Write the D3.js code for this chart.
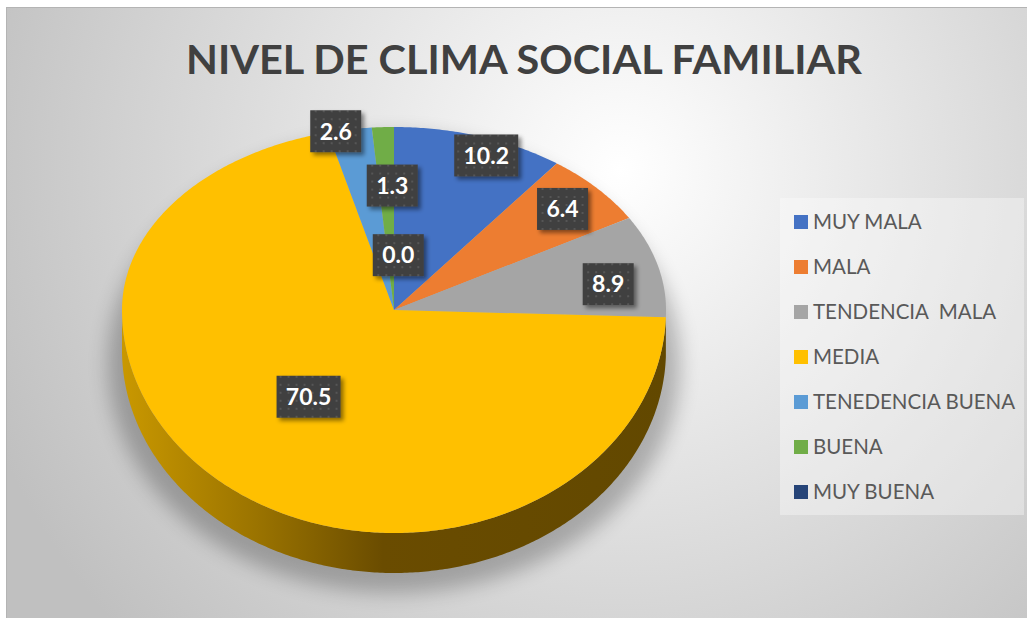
<!DOCTYPE html>
<html>
<head>
<meta charset="utf-8">
<script src="https://cdn.jsdelivr.net/npm/d3@7"></script>
<style>
  body { margin: 0; background: #fff; }
  svg { display: block; }
  text { font-family: Lato, "Open Sans", sans-serif; }
</style>
</head>
<body>
<div id="chart"></div>
<script>
// data
const categories = ["MUY MALA", "MALA", "TENDENCIA  MALA", "MEDIA", "TENEDENCIA BUENA", "BUENA", "MUY BUENA"];
const values = [10.2, 6.4, 8.9, 70.5, 2.6, 1.3, 0.0];
const colors = ["#4472c4", "#ed7d31", "#a5a5a5", "#ffc000", "#5b9bd5", "#70ad47", "#264478"];
// where each value box sits: fraction of radius, and a small angle nudge (deg)
const labelRadius = [0.91, 0.83, 0.8, 0.5, 1.0, 0.68, 0.3];
const labelNudge = [3.5, 0, 4, 0, -3, 1.8, 3];

const W = 1027, H = 618;

const svg = d3.select("#chart").append("svg")
    .attr("width", W)
    .attr("height", H);

const defs = svg.append("defs");

const bg = defs.append("radialGradient").attr("id", "bg")
    .attr("gradientUnits", "userSpaceOnUse")
    .attr("cx", 620).attr("cy", 170).attr("r", 680);
bg.append("stop").attr("offset", "0%").attr("stop-color", "#ffffff");
bg.append("stop").attr("offset", "100%").attr("stop-color", "#c0c0c0");

const side = defs.append("linearGradient").attr("id", "side")
    .attr("gradientUnits", "userSpaceOnUse")
    .attr("x1", 122).attr("x2", 666).attr("y1", 0).attr("y2", 0);
side.append("stop").attr("offset", "0%").attr("stop-color", "#c99800");
side.append("stop").attr("offset", "25%").attr("stop-color", "#9a7300");
side.append("stop").attr("offset", "48%").attr("stop-color", "#6a4c00");
side.append("stop").attr("offset", "100%").attr("stop-color", "#624800");

const blur = defs.append("filter").attr("id", "blur")
    .attr("x", "-20%").attr("y", "-20%").attr("width", "140%").attr("height", "140%");
blur.append("feGaussianBlur").attr("stdDeviation", 10);

const drop = defs.append("filter").attr("id", "drop")
    .attr("x", "-30%").attr("y", "-30%").attr("width", "160%").attr("height", "160%");
drop.append("feDropShadow").attr("dx", 3).attr("dy", 3).attr("stdDeviation", 2)
    .attr("flood-color", "#000").attr("flood-opacity", 0.45);

const dots = defs.append("pattern").attr("id", "dots")
    .attr("patternUnits", "userSpaceOnUse").attr("width", 8).attr("height", 8);
dots.append("rect").attr("width", 8).attr("height", 8).attr("fill", "#404040");
dots.append("rect").attr("x", 3).attr("y", 3).attr("width", 2).attr("height", 2).attr("fill", "#565656");

// chart area
svg.append("rect")
    .attr("x", 6.5).attr("y", 7.5)
    .attr("width", W).attr("height", H)
    .attr("fill", "url(#bg)")
    .attr("stroke", "#b4b4b4");

svg.append("text")
    .attr("x", 524).attr("y", 74)
    .attr("text-anchor", "middle")
    .attr("font-size", 41)
    .attr("font-weight", "bold")
    .attr("fill", "#404040")
    .attr("textLength", 676)
    .attr("lengthAdjust", "spacingAndGlyphs")
    .text("NIVEL DE CLIMA SOCIAL FAMILIAR");

// tilted pie geometry
const cx = 394, cy = 310, rx = 272, ryBack = 183, ryFront = 223, depth = 40;
const ry = a => Math.cos(a) > 0 ? ryBack : ryFront;
const px = (a, f = 1) => cx + rx * f * Math.sin(a);
const py = (a, f = 1) => cy - ry(a) * f * Math.cos(a);

const pie = d3.pie().sort(null).value(d => d.value);
const arcs = pie(categories.map((c, i) => ({
    name: c, value: values[i], color: colors[i], lr: labelRadius[i], nudge: labelNudge[i]
})));

const line = d3.line();
function rimPoints(a0, a1, dy) {
    const n = Math.max(2, Math.ceil((a1 - a0) / 0.01));
    return d3.range(n + 1).map(k => {
        const a = a0 + (a1 - a0) * k / n;
        return [px(a), py(a) + dy];
    });
}

// soft shadow under the pie
svg.append("ellipse")
    .attr("cx", cx).attr("cy", cy + 54)
    .attr("rx", rx + 14)
    .attr("ry", ryFront + 6)
    .attr("fill", "#000")
    .attr("opacity", 0.25)
    .attr("filter", "url(#blur)");

// side wall (front half only)
const g = svg.append("g");
arcs.forEach(d => {
    const a0 = Math.max(d.startAngle, Math.PI / 2);
    const a1 = Math.min(d.endAngle, 3 * Math.PI / 2);
    if (a1 <= a0) return;
    const top = rimPoints(a0, a1, 0);
    const bottom = rimPoints(a0, a1, depth).reverse();
    g.append("path")
        .attr("d", line(top.concat(bottom)) + "Z")
        .attr("fill", d.data.color === "#ffc000" ? "url(#side)" : d3.color(d.data.color).darker(1.2));
});

// top face
g.selectAll("path.slice")
    .data(arcs.filter(d => d.endAngle > d.startAngle))
    .join("path")
    .attr("class", "slice")
    .attr("d", d => line([[cx, cy]].concat(rimPoints(d.startAngle, d.endAngle, 0))) + "Z")
    .attr("fill", d => d.data.color);

// value boxes
const labels = svg.append("g");
arcs.forEach(d => {
    const a = (d.startAngle + d.endAngle) / 2 + d.data.nudge * Math.PI / 180;
    const x = px(a, d.data.lr), y = py(a, d.data.lr);
    const txt = d.data.value.toFixed(1);
    const w = txt.length > 3 ? 64 : 51, h = 42;
    const lg = labels.append("g").attr("transform", `translate(${x},${y})`);
    lg.append("rect")
        .attr("x", -w / 2).attr("y", -h / 2)
        .attr("width", w).attr("height", h)
        .attr("fill", "url(#dots)")
        .attr("filter", "url(#drop)");
    lg.append("text")
        .attr("text-anchor", "middle")
        .attr("dy", "0.36em")
        .attr("font-size", 23)
        .attr("font-weight", "bold")
        .attr("fill", "#fff")
        .text(txt);
});

// legend
const legend = svg.append("g");
legend.append("rect")
    .attr("x", 780).attr("y", 198)
    .attr("width", 244).attr("height", 317)
    .attr("fill", "#fff").attr("opacity", 0.35);

const ly = d3.scalePoint().domain(categories).range([222, 492]);
const items = legend.selectAll("g.item")
    .data(categories)
    .join("g")
    .attr("class", "item")
    .attr("transform", d => `translate(794,${ly(d)})`);
items.append("rect")
    .attr("y", -7).attr("width", 14).attr("height", 14)
    .attr("fill", (d, i) => colors[i]);
items.append("text")
    .attr("x", 19).attr("dy", "0.36em")
    .attr("font-size", 20.5)
    .attr("fill", "#595959")
    .style("white-space", "pre")
    .text(d => d);
</script>
</body>
</html>
